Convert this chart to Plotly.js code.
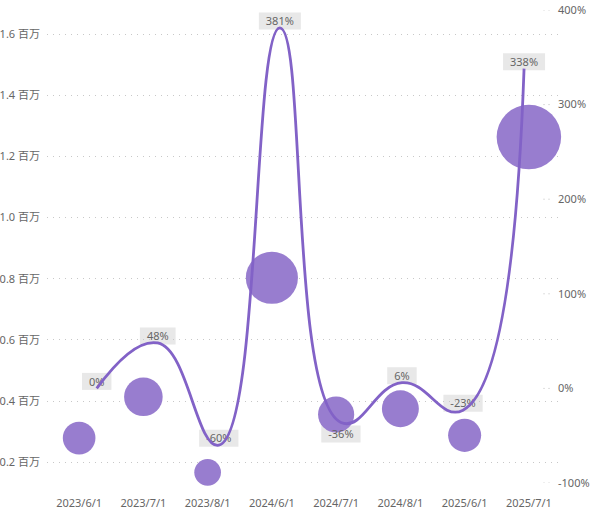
<!DOCTYPE html>
<html><head><meta charset="utf-8">
<script src="https://cdn.plot.ly/plotly-3.0.1.min.js"></script>
<style>html,body{margin:0;padding:0;background:#fff;overflow:hidden}</style>
</head><body><div id="chart" style="width:593px;height:520px"></div>
<script>
// ---- data ----
const categories = ['2023/6/1','2023/7/1','2023/8/1','2024/6/1','2024/7/1','2024/8/1','2025/6/1','2025/7/1'];
const amountValues = [279000, 414000, 167000, 803000, 356000, 375000, 288000, 1263000];
const growthValues = [0, 0.48, -0.60, 3.81, -0.36, 0.06, -0.23, 3.38];
const growthLabels = ['0%','48%','-60%','381%','-36%','6%','-23%','338%'];
const leftTickValues = [200000, 400000, 600000, 800000, 1000000, 1200000, 1400000, 1600000];
const leftTickLabels = ['0.2 百万','0.4 百万','0.6 百万','0.8 百万','1.0 百万','1.2 百万','1.4 百万','1.6 百万'];
const rightTickValues = [-1, 0, 1, 2, 3, 4];
const rightTickLabels = ['-100%','0%','100%','200%','300%','400%'];

// ---- styles ----
const FONT = '"Noto Sans", "Noto Sans CJK SC", sans-serif';
const TEXT = '#666666';
const bubbleColor = '#987dcf';
const lineColor = '#8262c7';
const labelsBelow = {'2024/7/1': true};

// bubble size scale (diameter in px from value, with a minimum offset)
const sizeScale = v => Math.sqrt(188 + 3145 * v / 1e6);

const ctx = document.createElement('canvas').getContext('2d');
ctx.font = '11px "Noto Sans"';
const textW = t => ctx.measureText(t).width;

const shapes = [];
categories.forEach((c, i) => {
  const w = textW(growthLabels[i]) + 14;
  const cy = labelsBelow[c] ? -11.5 : 7;
  shapes.push({
    type: 'rect', layer: 'below',
    xref: 'x2', yref: 'y2', xsizemode: 'pixel', ysizemode: 'pixel',
    xanchor: i, yanchor: growthValues[i],
    x0: -w / 2, x1: w / 2, y0: cy - 8.5, y1: cy + 8.5,
    fillcolor: '#e8e8e8', line: {width: 0}
  });
});
rightTickValues.forEach(v => {
  shapes.push({
    type: 'line', layer: 'below', xref: 'paper', yref: 'y2',
    x0: 0.966, x1: 0.979, y0: v, y1: v,
    line: {color: '#bdbdbd', width: 1, dash: '1px,4px'}
  });
});

const bubbles = {
  type: 'scatter', mode: 'markers',
  x: categories, y: amountValues,
  xaxis: 'x', yaxis: 'y',
  marker: {size: amountValues.map(sizeScale), sizemode: 'diameter', color: bubbleColor, opacity: 1, line: {width: 0}},
  cliponaxis: false, hoverinfo: 'x+y', showlegend: false
};
const growthText = {
  type: 'scatter', mode: 'markers+text',
  x: categories, y: growthValues, text: growthLabels,
  xaxis: 'x2', yaxis: 'y2',
  textposition: categories.map(c => labelsBelow[c] ? 'bottom center' : 'top center'),
  textfont: {family: FONT, size: 11, color: TEXT},
  marker: {size: categories.map(c => labelsBelow[c] ? 10 : 0), color: 'rgba(0,0,0,0)', line: {width: 0}},
  cliponaxis: false, hoverinfo: 'skip', showlegend: false
};
const growthLine = {
  type: 'scatter', mode: 'lines',
  x: categories, y: growthValues,
  xaxis: 'x2', yaxis: 'y2',
  line: {color: lineColor, width: 2.8, shape: 'spline', smoothing: 1.3},
  cliponaxis: false, hoverinfo: 'x+y', showlegend: false
};

const layout = {
  width: 593, height: 520,
  margin: {l: 47, r: 32, t: 10, b: 37},
  paper_bgcolor: '#ffffff', plot_bgcolor: '#ffffff',
  font: {family: FONT, size: 11, color: TEXT},
  showlegend: false,
  xaxis: {
    type: 'category', range: [-0.5, 7.5], showgrid: false, zeroline: false, showline: false,
    ticks: '', tickfont: {family: FONT, size: 11, color: TEXT}, ticklabelstandoff: 12, fixedrange: true
  },
  xaxis2: {
    type: 'category', overlaying: 'x', anchor: 'y2', range: [-0.814, 7.605], visible: false, fixedrange: true
  },
  yaxis: {
    range: [132200, 1678500], tickvals: leftTickValues, ticktext: leftTickLabels,
    showgrid: true, gridcolor: '#c8c8c8', griddash: '1px,5px', gridwidth: 1,
    zeroline: false, showline: false, ticks: '', ticklabelstandoff: 6,
    tickfont: {family: FONT, size: 11, color: TEXT}, fixedrange: true
  },
  yaxis2: {
    overlaying: 'y', side: 'right', anchor: 'x2', range: [-1, 4],
    tickvals: rightTickValues, ticktext: rightTickLabels,
    showgrid: false, zeroline: false, showline: false, ticks: '', ticklabelstandoff: -4,
    tickfont: {family: FONT, size: 11, color: TEXT}, fixedrange: true
  },
  shapes: shapes
};

Plotly.newPlot('chart', [bubbles, growthText, growthLine], layout, {displayModeBar: false, staticPlot: true});
</script>
</body></html>
